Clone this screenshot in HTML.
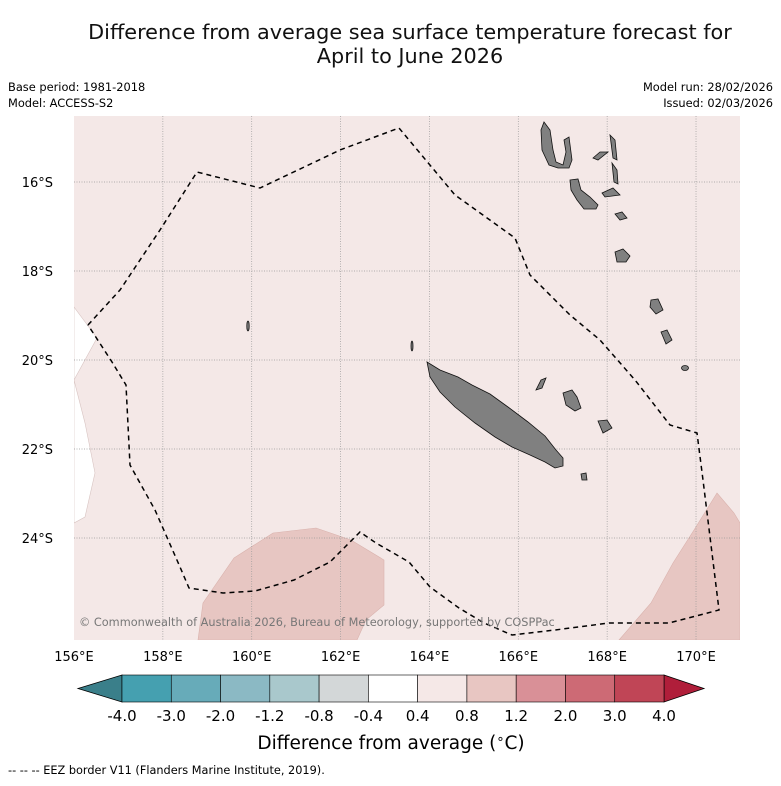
<!DOCTYPE html>
<html><head><meta charset="utf-8">
<style>
body{margin:0;background:#fff;font-family:"Liberation Sans","DejaVu Sans",sans-serif;}
svg text{font-family:"DejaVu Sans","Liberation Sans",sans-serif;}
</style></head>
<body>
<svg id="chart" width="781" height="781" viewBox="0 0 781 781" xmlns="http://www.w3.org/2000/svg">
<rect width="781" height="781" fill="#fff"/>
<text x="410" y="39" font-size="20.8" text-anchor="middle" fill="#111">Difference from average sea surface temperature forecast for</text>
<text x="410" y="63" font-size="20.8" text-anchor="middle" fill="#111">April to June 2026</text>
<text x="8" y="91" font-size="11.4">Base period: 1981-2018</text>
<text x="8" y="107" font-size="11.4">Model: ACCESS-S2</text>
<text x="773" y="91" font-size="11.4" text-anchor="end">Model run: 28/02/2026</text>
<text x="773" y="107" font-size="11.4" text-anchor="end">Issued: 02/03/2026</text>
<g>
<clipPath id="mc"><rect x="74" y="116" width="666" height="524"/></clipPath>
<g clip-path="url(#mc)">
<rect x="74" y="116" width="666" height="524" fill="#f4e8e7"/>
<polygon points="74,307 97,338 74,380" fill="#fff" stroke="#d8c4c2" stroke-width="0.6"/>
<polygon points="74,380 85,423 95,473 85,517 74,523" fill="#fff" stroke="#d8c4c2" stroke-width="0.6"/>
<polygon points="198,640 203,603 234,558 273,533 316,528 351,540 384,560 384,605 366,620 357,640" fill="#e7c6c2" stroke="#d9b2ad" stroke-width="0.6"/>
<polygon points="619,640 651,603 673,563 694,530 717,493 734,513 740,523 740,640" fill="#e7c6c2" stroke="#d9b2ad" stroke-width="0.6"/>
<g id="grid" stroke="#999" stroke-width="0.7" stroke-dasharray="1,1.5"></g>
<g fill="#808080" stroke="#111" stroke-width="0.8">
<polygon points="427,362 440,370 458,377 472,385 490,394 508,407 528,422 545,436 556,450 563,458 563,466 555,468 545,462 530,455 512,447 495,437 475,423 455,407 440,392 430,377"/>
<polygon points="544,122 550,130 553,150 556,162 563,165 566,152 564,140 569,137 572,160 569,168 558,168 549,165 542,150 541,130"/>
<polygon points="570,180 578,179 581,190 590,197 598,205 596,209 584,209 577,200 571,190"/>
<polygon points="615,214 622,212 627,218 620,220"/>
<polygon points="615,252 623,249 630,256 626,262 617,262"/>
<polygon points="610,135 615,140 617,160 613,158"/>
<polygon points="612,163 617,170 618,184 614,182"/>
<polygon points="602,193 613,188 620,195 605,197"/>
<polygon points="593,158 600,152 608,152 598,160"/>
<polygon points="563,393 572,390 577,397 581,408 575,411 566,405"/>
<polygon points="598,421 607,420 612,428 603,433"/>
<polygon points="541,380 546,378 542,388 536,390"/>
<polygon points="581,474 586,473 587,480 582,480"/>
<polygon points="651,300 658,299 663,310 656,314 650,307"/>
<polygon points="661,332 667,330 672,340 666,344"/>
<ellipse cx="685" cy="368" rx="3.5" ry="2.5"/>
<ellipse cx="248" cy="326" rx="1.2" ry="5"/>
<ellipse cx="412" cy="346" rx="1" ry="5"/>
</g>
<polyline fill="none" stroke="#000" stroke-width="1.5" stroke-dasharray="5,4" points="88,325 120,290 160,230 197,172 260,188 340,150 399,128 455,195 515,238 530,275 570,315 600,340 635,380 670,425 697,433 703,480 719,610 669,623 609,623 555,630 512,635 484,623 459,608 430,587 409,562 376,543 360,532 330,562 294,580 255,591 223,593 189,588 180,567 155,510 130,465 126,385 112,362 88,325"/>
<text x="79" y="626" font-size="11.3" fill="#777">© Commonwealth of Australia 2026, Bureau of Meteorology, supported by COSPPac</text>
</g>
</g>
<g id="axes"></g>
<g id="cbar"></g>
<text x="391" y="749" font-size="18.5" text-anchor="middle">Difference from average (<tspan font-size="13" dy="-6">∘</tspan><tspan dy="6">C)</tspan></text>
<text x="8" y="774" font-size="11.3">--  --  -- EEZ border V11 (Flanders Marine Institute, 2019).</text>
</svg>
<script>
const lonTicks=[156,158,160,162,164,166,168,170];
const latTicks=[16,18,20,22,24];
const cbarLabels=["-4.0","-3.0","-2.0","-1.2","-0.8","-0.4","0.4","0.8","1.2","2.0","3.0","4.0"];
const cbarColors=["#45a0b0","#67abb9","#8bb9c4","#a9c8cc","#d3d7d8","#ffffff","#f5e8e7","#e8c6c2","#d99097","#cd6a75","#c04556"];
const cbarLow="#3a7f8a", cbarHigh="#b01e3a";
const NS="http://www.w3.org/2000/svg";
function xLon(l){return 74+(l-156)*44.43;}
function yLat(l){return 182+(l-16)*44.5;}
function mk(t,a,p){const e=document.createElementNS(NS,t);for(const k in a)e.setAttribute(k,a[k]);p.appendChild(e);return e;}
const grid=document.getElementById('grid'),axes=document.getElementById('axes'),cb=document.getElementById('cbar');
lonTicks.forEach(l=>{const x=xLon(l);
 if(l>156){const g=mk('line',{x1:x,x2:x,y1:116,y2:640},grid);
 
 }
 const t=mk('text',{x:x,y:661,'font-size':13,'text-anchor':'middle'},axes);t.textContent=l+'°E';
 
 });
latTicks.forEach(l=>{const y=yLat(l);
 const g=mk('line',{x1:74,x2:740,y1:y,y2:y},grid);
 
 
 const t=mk('text',{x:53,y:y+5,'font-size':13,'text-anchor':'end'},axes);t.textContent=l+'°S';
 
 });
const x0=122,x1=664,y0=675,y1=702,w=(x1-x0)/cbarColors.length;
const lt=mk('polygon',{points:`78,${(y0+y1)/2} ${x0},${y0} ${x0},${y1}`,fill:cbarLow,stroke:'#000','stroke-width':0.8},cb);


const ht=mk('polygon',{points:`${x1},${y0} 704,${(y0+y1)/2} ${x1},${y1}`,fill:cbarHigh,stroke:'#000','stroke-width':0.8},cb);


cbarColors.forEach((c,i)=>{const r=mk('rect',{x:x0+i*w,y:y0,width:w,height:y1-y0,fill:c,stroke:'#000','stroke-width':0.6},cb);
 
 });
cbarLabels.forEach((s,i)=>{const t=mk('text',{x:x0+i*w,y:721,'font-size':15,'text-anchor':'middle'},cb);t.textContent=s;
 
 });
</script>
</body></html>
